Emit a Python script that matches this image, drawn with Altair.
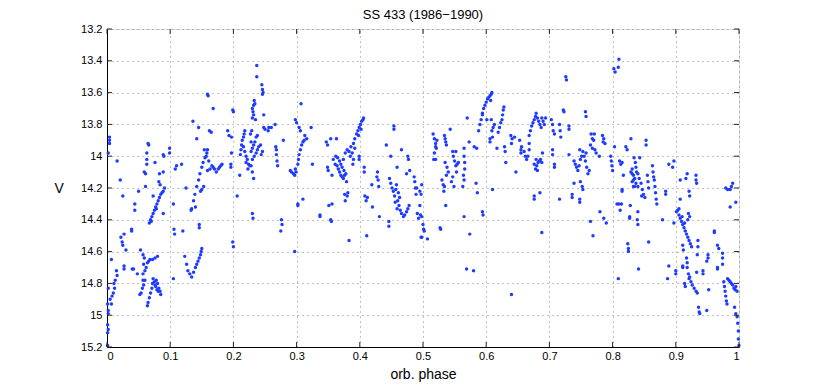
import altair as alt
import pandas as pd

TITLE = "SS 433 (1986\u22121990)"
X_TICKS = [0, 0.1, 0.2, 0.3, 0.4, 0.5, 0.6, 0.7, 0.8, 0.9, 1.0]
Y_TICKS = [13.2, 13.4, 13.6, 13.8, 14.0, 14.2, 14.4, 14.6, 14.8, 15.0, 15.2]

# (orbital phase, V magnitude), by phase region
region_a = [
    (0.004, 13.88), (0.004, 13.90), (0.004, 13.92), (0.002, 13.98), (0.016, 14.03),
    (0.021, 14.15), (0.025, 14.25), (0.044, 14.30), (0.044, 14.34), (0.050, 14.22),
    (0.039, 14.46), (0.039, 14.47), (0.027, 14.49), (0.022, 14.51), (0.024, 14.54),
    (0.025, 14.56), (0.030, 14.59), (0.007, 14.65), (0.015, 14.72), (0.016, 14.75),
    (0.027, 14.69), (0.027, 14.71), (0.040, 14.71), (0.013, 14.78), (0.011, 14.80),
    (0.012, 14.83), (0.010, 14.86), (0.008, 14.88), (0.002, 14.83), (0.001, 14.93),
    (0.002, 14.97), (0.002, 14.99), (0.001, 15.06), (0.002, 15.09), (0.001, 15.11),
    (0.001, 15.19), (0.007, 14.93), (0.005, 14.90),
    (0.067, 14.42), (0.069, 14.40), (0.071, 14.38), (0.073, 14.36), (0.075, 14.34),
    (0.077, 14.32), (0.079, 14.30), (0.081, 14.28), (0.083, 14.26), (0.085, 14.24),
    (0.087, 14.23), (0.089, 14.22), (0.091, 14.20), (0.070, 14.41), (0.078, 14.33),
    (0.065, 13.92), (0.066, 13.93), (0.063, 13.98), (0.063, 14.02), (0.063, 14.05),
    (0.059, 14.10), (0.061, 14.11), (0.076, 14.04), (0.089, 13.99), (0.090, 14.00),
    (0.083, 14.11), (0.089, 14.10), (0.082, 14.16), (0.084, 14.18), (0.061, 14.19),
    (0.073, 14.25), (0.089, 14.36), (0.099, 13.95), (0.099, 13.98), (0.105, 14.30),
    (0.053, 14.59), (0.057, 14.62), (0.059, 14.64), (0.062, 14.70), (0.064, 14.67),
    (0.066, 14.66), (0.068, 14.65), (0.072, 14.65), (0.076, 14.64), (0.080, 14.63),
    (0.058, 14.68), (0.060, 14.72), (0.057, 14.74), (0.042, 14.71), (0.048, 14.74),
    (0.057, 14.78), (0.060, 14.78), (0.058, 14.81), (0.056, 14.83), (0.054, 14.86),
    (0.052, 14.87), (0.071, 14.83), (0.069, 14.86), (0.067, 14.89), (0.065, 14.92),
    (0.064, 14.94), (0.073, 14.77), (0.075, 14.79), (0.078, 14.78), (0.080, 14.80),
    (0.077, 14.82), (0.082, 14.83), (0.084, 14.85), (0.085, 14.87), (0.081, 14.85),
    (0.079, 14.84), (0.076, 14.81), (0.072, 14.80),
]

region_b = [
    (0.134, 14.33), (0.137, 14.28), (0.139, 14.24), (0.142, 14.19), (0.145, 14.15),
    (0.147, 14.11), (0.150, 14.07), (0.152, 14.04), (0.155, 14.01), (0.158, 13.98),
    (0.159, 13.96), (0.159, 14.09), (0.163, 14.08), (0.168, 14.07), (0.166, 14.06),
    (0.148, 14.22), (0.150, 14.21), (0.153, 14.19), (0.133, 14.34), (0.140, 14.32),
    (0.125, 14.20), (0.108, 14.08), (0.110, 14.06), (0.118, 14.05), (0.120, 14.47),
    (0.106, 14.46), (0.107, 14.49), (0.146, 14.43), (0.146, 14.45), (0.105, 14.77),
    (0.140, 14.70), (0.142, 14.68), (0.144, 14.66), (0.146, 14.64), (0.148, 14.62),
    (0.149, 14.60), (0.150, 14.58), (0.123, 14.63), (0.126, 14.68), (0.128, 14.72),
    (0.131, 14.74), (0.134, 14.76), (0.137, 14.73), (0.136, 13.78), (0.145, 13.82),
    (0.142, 13.89), (0.159, 13.61), (0.160, 13.62), (0.168, 13.70), (0.162, 13.84),
    (0.165, 13.85), (0.154, 13.96), (0.157, 14.00), (0.161, 14.03),
    (0.170, 14.08), (0.173, 14.10), (0.176, 14.08), (0.180, 14.06), (0.182, 14.05),
    (0.178, 14.07), (0.191, 13.84), (0.193, 13.87), (0.197, 13.88), (0.197, 13.98),
    (0.196, 14.05), (0.196, 14.07), (0.199, 13.71), (0.200, 13.72), (0.206, 14.25),
    (0.199, 14.54), (0.200, 14.57), (0.210, 14.12),
]

region_c = [
    (0.211, 13.99), (0.212, 13.96), (0.213, 13.93), (0.214, 13.90), (0.216, 13.88),
    (0.217, 13.86), (0.218, 13.84), (0.216, 13.94), (0.218, 13.97), (0.220, 14.00),
    (0.222, 14.02), (0.224, 14.05), (0.226, 14.06), (0.220, 14.04), (0.223, 14.08),
    (0.228, 13.97), (0.230, 13.95), (0.232, 13.93), (0.234, 13.91), (0.236, 13.88),
    (0.238, 13.87), (0.228, 14.06), (0.230, 14.02), (0.233, 14.00), (0.236, 13.98),
    (0.238, 13.96), (0.240, 13.94), (0.230, 14.10), (0.232, 14.14), (0.244, 13.99),
    (0.246, 13.97), (0.243, 13.93), (0.227, 13.86), (0.229, 13.84), (0.228, 13.91),
    (0.230, 13.70), (0.231, 13.72), (0.232, 13.68), (0.234, 13.67), (0.233, 13.65),
    (0.232, 13.74), (0.230, 13.76), (0.235, 13.77), (0.237, 13.43), (0.237, 13.50),
    (0.245, 13.55), (0.246, 13.58), (0.247, 13.60), (0.246, 13.61), (0.248, 13.74),
    (0.248, 13.82), (0.250, 13.83), (0.256, 13.82), (0.260, 13.82), (0.255, 13.84),
    (0.230, 14.36), (0.231, 14.39), (0.266, 13.80), (0.267, 13.94), (0.268, 13.96),
    (0.268, 13.99), (0.269, 14.03), (0.270, 14.06), (0.279, 13.90), (0.276, 14.40),
    (0.277, 14.43), (0.275, 14.47), (0.297, 14.60), (0.290, 14.09), (0.292, 14.10),
    (0.295, 14.11), (0.297, 14.12), (0.299, 14.10), (0.298, 14.08), (0.302, 14.05),
    (0.303, 14.02), (0.304, 13.99), (0.306, 13.96), (0.308, 13.93), (0.310, 13.91),
    (0.312, 13.90), (0.298, 13.77), (0.300, 13.79), (0.304, 13.82), (0.306, 13.84),
    (0.307, 13.67), (0.313, 13.87), (0.316, 13.89), (0.323, 13.82), (0.325, 14.05),
    (0.302, 14.30), (0.302, 14.31), (0.310, 14.27), (0.337, 14.38),
]

region_d = [
    (0.347, 13.91), (0.349, 13.93), (0.349, 14.07), (0.350, 14.09), (0.354, 13.89),
    (0.356, 14.12), (0.363, 13.89), (0.358, 14.02), (0.361, 14.05), (0.364, 14.06),
    (0.366, 14.08), (0.368, 14.10), (0.370, 14.12), (0.372, 14.13), (0.374, 14.14),
    (0.376, 14.12), (0.379, 14.16), (0.370, 14.05), (0.368, 14.03), (0.362, 14.00),
    (0.365, 14.01), (0.372, 14.07), (0.375, 14.09), (0.378, 14.11), (0.374, 14.02),
    (0.377, 13.98), (0.380, 13.96), (0.383, 13.97), (0.386, 13.94), (0.390, 13.92),
    (0.392, 13.89), (0.395, 13.86), (0.397, 13.84), (0.399, 13.82), (0.401, 13.80),
    (0.403, 13.78), (0.405, 13.77), (0.406, 13.76), (0.402, 13.83), (0.398, 13.87),
    (0.392, 13.95), (0.388, 13.98), (0.385, 14.00), (0.390, 14.02), (0.389, 14.05),
    (0.399, 14.00), (0.399, 14.02), (0.407, 14.07), (0.407, 14.10), (0.376, 14.24),
    (0.377, 14.28), (0.380, 14.25), (0.381, 14.23), (0.351, 14.31), (0.356, 14.30),
    (0.337, 14.37), (0.354, 14.40), (0.355, 14.41), (0.383, 14.53), (0.408, 14.25),
    (0.410, 14.28), (0.412, 14.26), (0.420, 14.32), (0.411, 14.50), (0.419, 14.18),
    (0.427, 14.13), (0.428, 14.10), (0.429, 14.15), (0.430, 14.19), (0.431, 14.38),
    (0.442, 13.93), (0.446, 14.41), (0.446, 14.44), (0.449, 14.00), (0.447, 14.14),
    (0.449, 14.17), (0.451, 14.20), (0.453, 14.22), (0.455, 14.25), (0.457, 14.21),
    (0.458, 14.18), (0.460, 14.28), (0.462, 14.31), (0.464, 14.34), (0.466, 14.36),
    (0.469, 14.38), (0.471, 14.37), (0.474, 14.35), (0.476, 14.33), (0.478, 14.31),
    (0.461, 14.23), (0.463, 14.26), (0.456, 14.29), (0.459, 14.33), (0.454, 13.81),
    (0.454, 13.83), (0.459, 14.07), (0.466, 13.96), (0.474, 14.11), (0.476, 14.00),
    (0.477, 14.02), (0.479, 14.09), (0.486, 14.13), (0.487, 14.16), (0.488, 14.20),
    (0.489, 14.24), (0.491, 14.36), (0.493, 14.39), (0.496, 14.37), (0.495, 14.31),
    (0.500, 14.43), (0.501, 14.46), (0.497, 14.51),
]

region_e = [
    (0.490, 14.20), (0.495, 14.22), (0.497, 14.24), (0.498, 14.18), (0.498, 14.38),
    (0.502, 14.47), (0.498, 14.51), (0.507, 14.52), (0.516, 13.86), (0.518, 13.89),
    (0.520, 13.92), (0.521, 13.95), (0.518, 13.98), (0.520, 13.94), (0.522, 13.90),
    (0.517, 14.02), (0.520, 14.02), (0.534, 13.87), (0.536, 13.91), (0.537, 13.93),
    (0.535, 13.89), (0.543, 13.83), (0.530, 14.15), (0.532, 14.18), (0.533, 14.22),
    (0.534, 14.19), (0.535, 14.04), (0.538, 14.07), (0.540, 14.10), (0.537, 14.12),
    (0.527, 14.45), (0.528, 14.46), (0.536, 14.31), (0.547, 13.97), (0.548, 14.00),
    (0.550, 14.03), (0.552, 14.06), (0.554, 14.05), (0.553, 14.10), (0.547, 14.13),
    (0.545, 14.16), (0.549, 14.19), (0.556, 14.04), (0.552, 13.97), (0.565, 13.95),
    (0.565, 14.00), (0.566, 14.04), (0.566, 14.08), (0.564, 14.12), (0.565, 14.15),
    (0.563, 14.19), (0.570, 13.76), (0.573, 13.91), (0.565, 14.38), (0.574, 14.49),
    (0.569, 14.71), (0.580, 14.72), (0.581, 13.94), (0.585, 13.95), (0.584, 14.17),
    (0.586, 14.23), (0.588, 13.84), (0.590, 13.80), (0.592, 13.77), (0.594, 13.74),
    (0.594, 13.73), (0.596, 13.70), (0.598, 13.68), (0.600, 13.66), (0.602, 13.64),
    (0.604, 13.63), (0.606, 13.62), (0.608, 13.61), (0.609, 13.60), (0.607, 13.65),
    (0.594, 14.35), (0.595, 14.37), (0.601, 13.77), (0.608, 13.77), (0.609, 13.84),
    (0.611, 13.82), (0.613, 13.80), (0.610, 13.88), (0.606, 13.89), (0.606, 13.91),
    (0.610, 14.21), (0.617, 13.95), (0.619, 13.85), (0.621, 13.82), (0.623, 13.79),
    (0.625, 13.77), (0.626, 13.74), (0.627, 13.71), (0.628, 13.69), (0.629, 13.94),
    (0.630, 13.97), (0.631, 14.04), (0.639, 13.87), (0.641, 13.89), (0.645, 13.88),
    (0.640, 13.92), (0.647, 14.10), (0.640, 14.87), (0.655, 13.96), (0.655, 13.98),
    (0.660, 13.97), (0.662, 14.00), (0.664, 14.02), (0.666, 14.00), (0.668, 13.96),
    (0.668, 13.92), (0.653, 13.90), (0.656, 13.94),
]

region_f = [
    (0.668, 13.87), (0.670, 13.84), (0.672, 13.81), (0.674, 13.79), (0.676, 13.77),
    (0.678, 13.75), (0.679, 13.73), (0.681, 13.76), (0.683, 13.78), (0.685, 13.80),
    (0.688, 13.76), (0.690, 13.78), (0.692, 13.80), (0.694, 13.76), (0.687, 13.82),
    (0.676, 14.05), (0.678, 14.08), (0.680, 14.06), (0.682, 14.04), (0.684, 14.03),
    (0.686, 14.02), (0.688, 14.04), (0.681, 14.09), (0.679, 14.02), (0.676, 14.25),
    (0.676, 14.27), (0.685, 14.23), (0.688, 14.48), (0.689, 13.98), (0.703, 13.77),
    (0.705, 13.80), (0.706, 13.84), (0.708, 13.86), (0.716, 13.80), (0.717, 13.84),
    (0.718, 13.88), (0.705, 13.96), (0.705, 13.99), (0.708, 14.05), (0.708, 14.07),
    (0.716, 14.27), (0.726, 13.50), (0.727, 13.52), (0.722, 13.71), (0.723, 13.72),
    (0.731, 13.81), (0.731, 13.83), (0.731, 13.99), (0.739, 14.03), (0.741, 14.05),
    (0.743, 14.07), (0.745, 14.09), (0.747, 14.06), (0.749, 14.02), (0.751, 14.00),
    (0.753, 13.97), (0.755, 14.00), (0.757, 14.03), (0.759, 14.07), (0.761, 14.11),
    (0.763, 14.09), (0.758, 13.98), (0.748, 13.96), (0.739, 14.17), (0.736, 14.24),
    (0.736, 14.26), (0.749, 14.16), (0.752, 14.19), (0.753, 14.21), (0.748, 14.27),
    (0.748, 14.29), (0.757, 13.72), (0.758, 13.75), (0.766, 13.86), (0.768, 13.89),
    (0.770, 13.90), (0.771, 13.86), (0.765, 13.93), (0.768, 13.95), (0.772, 13.96),
    (0.774, 13.98), (0.779, 14.00), (0.784, 13.87), (0.786, 13.89), (0.788, 13.92),
    (0.785, 13.91), (0.780, 14.35), (0.786, 14.39), (0.790, 14.42), (0.765, 14.41),
    (0.769, 14.50), (0.797, 14.00), (0.798, 14.03), (0.799, 14.06), (0.800, 14.09),
    (0.802, 13.45), (0.804, 13.47), (0.810, 13.39), (0.809, 13.44), (0.803, 13.94),
    (0.811, 14.03), (0.813, 14.05), (0.815, 14.04), (0.817, 14.12), (0.815, 14.21),
    (0.815, 14.22), (0.807, 14.30), (0.810, 14.30), (0.814, 14.30), (0.812, 14.34),
    (0.809, 14.77), (0.821, 13.94), (0.823, 13.96), (0.829, 13.89), (0.828, 14.31),
    (0.827, 14.38), (0.827, 14.39), (0.824, 14.55), (0.825, 14.58), (0.825, 14.60),
    (0.831, 14.11), (0.833, 14.15), (0.835, 14.19),
]

region_g = [
    (0.853, 13.90), (0.853, 13.93), (0.834, 14.01), (0.836, 14.04), (0.837, 14.07),
    (0.838, 14.10), (0.835, 14.14), (0.837, 14.17), (0.840, 14.19), (0.833, 14.12),
    (0.831, 14.08), (0.829, 14.10), (0.831, 14.16), (0.833, 14.19), (0.843, 14.01),
    (0.840, 14.11), (0.842, 14.14), (0.845, 14.17), (0.847, 14.21), (0.849, 14.24),
    (0.851, 14.26), (0.846, 14.25), (0.855, 14.12), (0.856, 14.16), (0.857, 14.20),
    (0.863, 14.06), (0.864, 14.10), (0.866, 14.15), (0.867, 14.19), (0.868, 14.23),
    (0.869, 14.27), (0.870, 14.30), (0.865, 14.13), (0.884, 14.22), (0.884, 14.24),
    (0.879, 14.40), (0.889, 14.05), (0.895, 14.07), (0.897, 14.03), (0.840, 14.35),
    (0.839, 14.40), (0.840, 14.43), (0.857, 14.54), (0.841, 14.71), (0.907, 14.27),
    (0.907, 14.15), (0.918, 14.11), (0.916, 14.14), (0.921, 14.22), (0.922, 14.25),
    (0.932, 14.12), (0.932, 14.15), (0.933, 14.17), (0.903, 14.34), (0.905, 14.37),
    (0.907, 14.39), (0.909, 14.41), (0.911, 14.43), (0.913, 14.45), (0.915, 14.47),
    (0.917, 14.49), (0.919, 14.51), (0.921, 14.53), (0.923, 14.55), (0.925, 14.57),
    (0.910, 14.38), (0.914, 14.42), (0.905, 14.33), (0.901, 14.35), (0.897, 14.42),
    (0.920, 14.36), (0.922, 14.38), (0.919, 14.40), (0.911, 14.56), (0.912, 14.59),
    (0.935, 14.53), (0.935, 14.57), (0.934, 14.62), (0.917, 14.64), (0.918, 14.67),
    (0.911, 14.69), (0.911, 14.70), (0.918, 14.70), (0.920, 14.74), (0.921, 14.77),
    (0.922, 14.76), (0.924, 14.79), (0.926, 14.81), (0.929, 14.83), (0.932, 14.85),
    (0.934, 14.86), (0.914, 14.80), (0.915, 14.82), (0.900, 14.72), (0.900, 14.74),
    (0.887, 14.77), (0.889, 14.69), (0.933, 14.73), (0.936, 14.95), (0.937, 14.98),
    (0.938, 14.99), (0.943, 14.72), (0.943, 14.74), (0.951, 14.62), (0.951, 14.64),
    (0.949, 14.66), (0.952, 14.84), (0.949, 14.97), (0.961, 14.47), (0.961, 14.48),
    (0.966, 14.56), (0.968, 14.58), (0.974, 14.61), (0.974, 14.64), (0.974, 14.68),
    (0.966, 14.70), (0.966, 14.71), (0.976, 14.79), (0.977, 14.82), (0.978, 14.85),
    (0.979, 14.88), (0.980, 14.91), (0.981, 14.93), (0.982, 14.77), (0.984, 14.78),
    (0.986, 14.79), (0.988, 14.80), (0.990, 14.81), (0.992, 14.83), (0.994, 14.84),
    (0.995, 14.82), (0.997, 14.85), (0.993, 14.95), (0.995, 14.99), (0.997, 15.01),
    (0.998, 15.05), (0.999, 15.10), (0.999, 15.15), (1.000, 15.19), (0.979, 14.20),
    (0.982, 14.21), (0.986, 14.21), (0.988, 14.19), (0.990, 14.17), (0.995, 14.29),
    (0.986, 14.32),
]

points = region_a + region_b + region_c + region_d + region_e + region_f + region_g
df = pd.DataFrame(points, columns=["phase", "V"])
xt = pd.DataFrame({"t": X_TICKS})
yt = pd.DataFrame({"t": Y_TICKS})

W, H = 632, 318
FONT = "Liberation Sans"

xscale = alt.Scale(domain=[0, 1], nice=False, zero=False)
yscale = alt.Scale(domain=[13.2, 15.2], reverse=True, nice=False, zero=False)

common = dict(grid=True, gridDash=[1, 4], gridColor="#777777", gridOpacity=0.9,
              tickSize=0, domainColor="#000000", labelOverlap=False,
              labelFont=FONT, titleFont=FONT, labelFontSize=11, titleFontSize=14,
              titleFontWeight="normal", labelColor="#000000", titleColor="#000000")

x_axis = alt.Axis(values=X_TICKS, format=".1~f", title="orb. phase",
                  labelPadding=3, titlePadding=6, **common)
y_axis = alt.Axis(values=Y_TICKS, format=".1~f", title="V",
                  labelPadding=5, titleAngle=0, titleBaseline="middle",
                  titlePadding=22, **common)

pts = alt.Chart(df).mark_circle(size=12, opacity=1, color="#1f3bff").encode(
    x=alt.X("phase:Q", scale=xscale, axis=x_axis),
    y=alt.Y("V:Q", scale=yscale, axis=y_axis),
)

tick_b = alt.Chart(xt).mark_rule(color="#222222").encode(
    x=alt.X("t:Q", scale=xscale, axis=x_axis), y=alt.value(H), y2=alt.value(H - 5))
tick_t = alt.Chart(xt).mark_rule(color="#222222").encode(
    x=alt.X("t:Q", scale=xscale, axis=x_axis), y=alt.value(0), y2=alt.value(5))
tick_l = alt.Chart(yt).mark_rule(color="#222222").encode(
    y=alt.Y("t:Q", scale=yscale, axis=y_axis), x=alt.value(0), x2=alt.value(5))
tick_r = alt.Chart(yt).mark_rule(color="#222222").encode(
    y=alt.Y("t:Q", scale=yscale, axis=y_axis), x=alt.value(W), x2=alt.value(W - 5))

chart = alt.layer(pts, tick_b, tick_t, tick_l, tick_r).properties(
    width=W, height=H,
    title=alt.TitleParams(TITLE, fontSize=13, fontWeight="normal", font=FONT,
                          anchor="middle", offset=1, color="#000000"),
    autosize="none",
    padding={"left": 99, "top": 21, "right": 70, "bottom": 35},
).configure_view(stroke="#000000", strokeWidth=1).configure(background="#ffffff")

chart.save("out.html", embed_options={"renderer": "svg", "actions": False})
